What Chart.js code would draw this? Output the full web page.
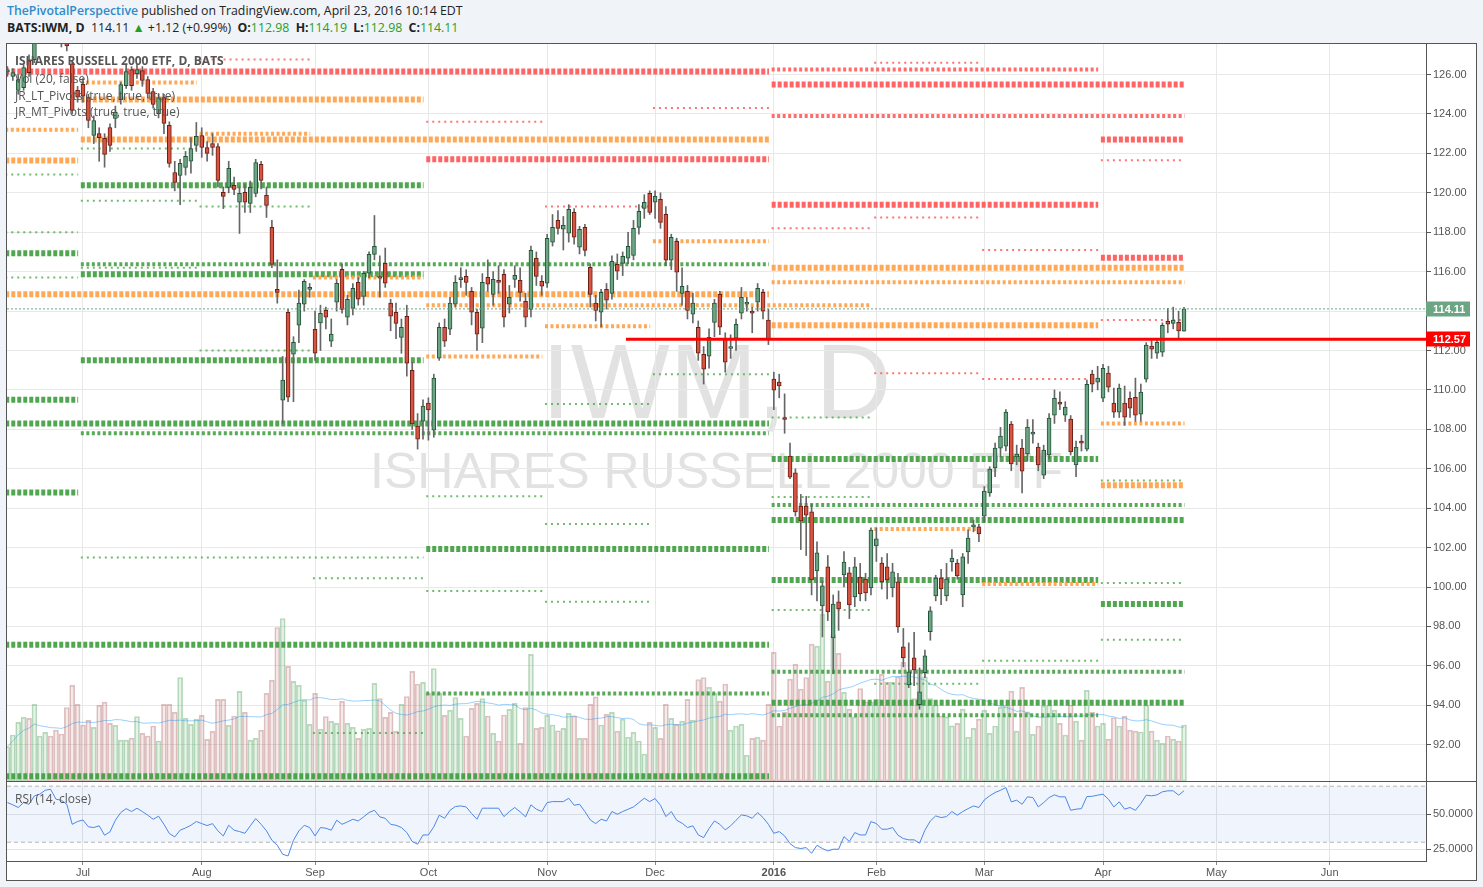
<!DOCTYPE html>
<html>
<head>
<meta charset="utf-8">
<script src="https://cdn.jsdelivr.net/npm/chart.js@4.4.1/dist/chart.umd.min.js"></script>
<style>
  body { margin:0; width:1483px; height:887px; overflow:hidden; background:#f0f3f7; position:relative; font-family:"Open Sans", sans-serif; }
  .hdr { position:absolute; left:7px; font-size:12.3px; line-height:17px; color:#222; white-space:nowrap; }
  #h1 { top:2px; }
  #h2 { top:19px; }
  #h1 .auth { color:#2d8bcb; font-weight:600; }
  .g { color:#1fa01f; }
  #frame { position:absolute; left:6px; top:43px; width:1469px; height:836px; border:1px solid #555; background:#fff; }
  #main { position:absolute; left:0; top:0; z-index:1; }
  #sep { position:absolute; left:0; top:737px; width:1469px; height:1px; background:#555; }
  #rsi { position:absolute; left:0; top:738px; z-index:1; }
  .wm { position:absolute; left:0; width:1419px; text-align:center; font-family:"Liberation Sans", Arial, sans-serif; color:#e2e2e2; white-space:nowrap; z-index:0; }
  #wm1 { top:285px; font-size:105px; line-height:105px; }
  #wm2 { top:402px; font-size:50px; line-height:50px; }
  .lg { position:absolute; left:8px; font-size:12px; line-height:17px; color:#555; z-index:2; white-space:nowrap; }
</style>
</head>
<body>
<div class="hdr" id="h1"><span class="auth">ThePivotalPerspective</span> published on TradingView.com, April 23, 2016 10:14 EDT</div>
<div class="hdr" id="h2"><b>BATS:IWM, D</b>&nbsp; 114.11 <span class="g">&#9650;</span> +1.12 (+0.99%)&nbsp; <b>O:</b><span class="g">112.98</span>&nbsp; <b>H:</b><span class="g">114.19</span>&nbsp; <b>L:</b><span class="g">112.98</span>&nbsp; <b>C:</b><span class="g">114.11</span></div>
<div id="frame">
  <div class="wm" id="wm1">IWM, D</div>
  <div class="wm" id="wm2">ISHARES RUSSELL 2000 ETF</div>
  <canvas id="main" width="1469" height="737"></canvas>
  <div id="sep"></div>
  <canvas id="rsi" width="1469" height="98"></canvas>
  <div class="lg" style="top:8px;font-weight:bold;">ISHARES RUSSELL 2000 ETF, D, BATS</div>
  <div class="lg" style="top:26px;">Vol (20, false)</div>
  <div class="lg" style="top:43px;">JR_LT_Pivots (true, true, true)</div>
  <div class="lg" style="top:59px;">JR_MT_Pivots (true, true, true)</div>
  <div class="lg" style="top:746px;">RSI (14, close)</div>
</div>
<script>
// month ticks (bar index of first session of each month)
const monthIdx = [14, 36, 57, 78, 100, 120, 142, 161, 181, 203, 224, 245];
const monthLbl = ["Jul", "Aug", "Sep", "Oct", "Nov", "Dec", "2016", "Feb", "Mar", "Apr", "May", "Jun"];

// daily bars, Jun 11 2015 .. Apr 22 2016
const opens = [126.15,125.9,125.2,125.34,126.7,126.76,127.7,128.0,128.3,128.1,127.9,127.9,126.55,125.2,125.5,124.83,122.91,123.0,122.76,123.31,
123.77,124.73,125.44,126.25,126.05,126.2,125.75,125.14,124.02,124.83,123.42,121.03,120.88,121.29,121.6,122.4,122.91,122.3,122.5,122.35,
120.02,120.28,120.38,119.52,120.02,119.46,119.97,121.44,119.87,118.25,115.1,109.48,113.94,111.81,113.28,114.35,115.1,113.08,113.4,114.04,
112.47,114.45,116.12,113.69,114.14,115.46,114.75,115.92,116.88,115.75,116.42,114.4,113.94,112.67,113.74,111.0,108.16,108.42,109.33,107.96,
111.61,113.18,113.08,114.35,115.6,115.76,115.0,113.94,113.13,115.71,114.85,115.56,115.87,114.35,115.61,115.56,114.5,114.09,116.68,115.51,
115.41,117.49,118.6,118.15,117.95,119.01,117.24,118.25,116.22,114.4,113.94,115.11,114.9,116.37,116.42,116.68,116.83,118.25,119.21,119.97,
119.52,119.67,118.91,116.58,117.54,114.9,115.0,113.84,113.18,111.81,111.71,113.43,114.85,112.57,112.1,112.62,113.89,114.35,114.0,114.45,
114.95,113.54,110.55,110.4,108.6,106.65,105.79,104.11,104.11,103.81,100.82,99.04,101.02,97.42,99.25,100.61,100.72,99.5,100.51,100.4,
99.96,102.08,101.22,101.02,99.96,100.26,96.97,95.04,96.41,94.03,95.65,97.73,99.55,100.46,99.55,101.27,101.22,99.6,101.78,103.05,
103.05,103.6,104.77,106.04,107.05,107.15,108.27,106.6,107.05,106.75,107.76,107.1,105.68,106.7,108.72,109.38,108.72,108.52,106.19,107.4,
107.0,110.8,110.4,109.58,110.85,109.33,108.87,109.33,109.58,109.63,108.77,110.55,112.22,111.86,111.91,113.48,113.38,113.43,112.98];
const highs = [126.4,126.3,126.0,126.5,127.0,128.0,128.3,128.4,128.7,128.5,128.2,128.1,126.7,125.4,125.8,125.0,123.9,123.3,123.0,123.5,
124.4,125.6,126.5,126.4,126.5,126.4,125.9,125.3,125.0,125.0,123.6,121.6,121.7,122.1,122.8,123.57,123.3,122.6,123.0,122.5,
120.3,121.6,120.8,120.3,120.4,120.6,121.7,121.6,120.3,118.6,116.6,111.7,114.1,112.7,115.06,115.6,115.4,114.0,114.3,114.2,
113.6,115.6,116.4,114.8,115.4,115.7,116.0,117.0,118.85,116.8,117.2,114.6,114.4,113.6,114.3,111.4,108.8,109.5,109.6,110.8,
113.4,113.6,114.7,115.8,116.2,116.1,115.2,114.1,115.9,116.6,116.0,116.3,116.1,115.3,116.3,116.2,114.9,117.3,117.0,115.8,
117.9,118.9,119.1,118.8,119.4,119.2,118.3,118.4,116.4,114.8,115.1,115.4,116.8,116.9,117.0,118.0,118.6,119.4,119.9,120.1,
120.1,120.0,119.3,117.9,117.7,116.2,115.3,114.9,113.5,112.2,113.1,114.6,115.0,112.9,112.8,113.6,115.2,114.7,114.2,115.4,
115.1,114.1,110.9,110.8,109.8,107.3,106.0,104.7,104.6,104.2,102.3,100.3,101.6,99.6,99.8,101.8,101.0,101.5,101.2,100.7,
103.0,103.0,101.5,101.7,101.2,100.7,97.9,97.17,97.7,95.9,96.8,99.0,100.6,100.9,101.2,101.9,101.4,101.7,102.9,103.4,
103.2,105.1,106.1,107.3,108.1,109.0,108.4,107.2,107.5,108.5,108.5,107.3,107.2,108.8,110.0,109.9,109.4,108.7,107.4,107.7,
110.5,111.0,111.2,111.3,111.2,110.1,110.3,110.2,109.9,110.6,110.3,112.4,112.5,112.6,113.4,114.14,114.2,114.0,114.19];
const lows = [125.9,125.7,125.0,125.2,125.9,126.6,127.6,127.7,127.9,127.7,127.4,127.2,124.0,124.6,124.6,123.3,122.5,121.6,121.3,122.1,
123.3,124.5,125.3,125.2,125.8,125.4,124.8,124.3,123.8,123.0,121.3,120.1,119.4,120.9,121.0,122.1,121.8,121.6,121.9,120.3,
119.2,120.0,119.9,117.94,119.0,119.0,119.8,120.2,118.75,116.2,114.4,108.3,109.4,109.4,112.4,114.0,114.7,111.5,112.0,113.1,
112.2,114.0,113.9,113.3,113.8,114.3,114.3,115.7,116.6,114.7,115.2,113.0,112.6,111.86,110.7,108.0,107.0,107.5,107.45,107.6,
111.5,112.2,112.8,114.2,115.2,114.8,113.3,112.0,112.4,115.0,114.3,114.9,113.2,113.9,115.2,114.5,113.2,113.7,115.3,114.8,
115.2,117.3,117.9,117.1,117.5,117.4,116.9,116.8,114.2,113.5,113.2,114.1,114.6,115.6,115.8,116.4,116.6,117.9,118.7,118.9,
118.7,118.2,116.3,116.1,115.0,114.3,113.6,113.4,111.5,110.3,111.1,112.7,112.8,110.9,111.6,112.0,113.6,114.0,112.9,114.0,
113.6,112.3,109.0,109.6,107.8,105.5,103.6,101.9,101.6,99.6,99.3,97.47,98.3,95.6,97.8,100.0,98.4,99.0,99.3,99.3,
99.6,101.3,99.9,99.4,99.5,97.7,95.95,94.9,95.0,93.8,95.4,97.3,99.3,99.1,99.3,100.8,100.4,99.0,101.2,102.8,
102.3,103.3,104.6,105.6,106.6,106.9,105.9,106.2,104.77,106.4,107.3,105.9,105.5,106.5,108.3,109.0,108.4,106.7,105.6,106.9,
106.9,109.9,110.0,109.4,109.9,108.6,108.6,108.2,108.6,108.4,108.4,110.4,111.6,111.6,111.7,112.9,113.1,112.6,112.98];
const closes = [126.2,126.1,125.75,126.35,126.1,127.7,128.0,128.2,128.1,127.9,127.6,127.45,124.18,124.85,124.9,123.67,123.67,122.8,121.95,122.4,
124.08,125.49,126.15,125.44,126.25,125.7,125.04,124.48,124.83,123.52,121.49,120.53,121.49,121.85,122.25,122.86,122.3,122.0,122.3,120.63,
119.82,121.24,120.17,119.97,119.52,120.28,121.54,120.63,119.36,116.37,114.95,110.5,109.63,112.42,114.4,115.51,115.2,111.86,113.89,113.69,
112.83,115.41,114.09,114.6,115.16,114.6,115.92,116.88,117.28,115.67,115.41,113.74,113.38,113.18,111.36,108.27,107.5,109.18,108.98,110.6,
113.18,112.47,114.4,115.46,115.7,115.46,113.94,112.83,115.46,115.36,115.61,115.46,113.69,114.7,115.82,114.95,113.69,117.08,115.76,115.26,
117.69,118.25,118.2,118.35,119.16,117.75,118.15,117.08,114.85,114.04,114.95,114.55,116.52,116.02,116.78,117.28,118.2,119.06,119.52,119.01,
119.82,118.5,116.58,117.74,115.97,115.26,114.04,114.4,111.86,111.05,112.67,114.4,113.18,111.41,112.2,113.33,114.7,114.45,113.9,115.16,
113.99,112.57,109.99,110.2,108.5,105.58,103.81,103.35,103.65,100.36,101.73,100.06,98.74,99.14,98.89,101.27,99.09,101.02,99.65,99.7,
102.89,102.44,100.26,100.36,100.77,97.98,96.41,95.7,95.8,94.69,96.51,98.79,100.46,99.9,100.41,101.47,100.56,101.53,102.49,103.15,
102.69,104.87,105.99,107.05,107.66,108.87,106.24,106.75,105.88,108.11,107.86,106.19,106.95,108.57,109.58,109.28,109.13,106.85,107.1,107.3,
110.29,110.29,110.6,111.1,110.14,108.87,110.09,108.62,109.08,108.72,109.89,112.27,112.07,112.42,113.28,113.33,113.54,112.99,114.11];
// volume, millions of shares
const volumes = [20.9,28.1,35.8,38.8,38.2,46.8,27.5,29.7,27.5,31.1,28.7,44.9,58.4,46.8,34.2,37.2,32.7,46.2,48.2,35.2,
34.0,25.0,25.0,26.2,39.4,29.1,27.5,33.6,24.4,46.8,46.8,41.9,63.2,38.2,34.6,37.8,40.1,25.4,30.3,49.8,
49.8,34.0,39.7,54.7,41.9,25.0,26.0,31.1,53.5,61.4,93.7,99.2,70.0,60.8,58.4,49.2,34.6,53.5,31.7,39.4,
36.4,35.2,48.6,35.2,32.7,26.0,31.5,32.1,59.6,50.4,38.8,41.9,30.3,46.8,51.6,66.9,59.2,60.2,53.5,68.7,
53.5,40.1,43.3,51.0,38.2,27.5,44.3,47.4,50.4,39.7,29.1,24.4,40.3,43.7,47.4,23.0,44.9,77.3,32.1,32.7,
40.1,34.2,30.7,32.1,41.3,39.7,26.0,26.0,46.8,51.4,34.2,40.7,41.9,30.5,37.8,26.7,29.7,24.4,16.5,35.8,
32.7,26.0,46.8,38.2,34.6,36.6,49.8,37.2,62.0,63.2,57.2,53.5,48.8,59.2,31.1,33.6,34.6,15.7,26.0,26.7,
25.0,46.8,78.5,33.6,42.1,62.2,71.4,56.1,63.2,83.6,82.4,101.9,61.0,89.1,77.9,54.1,43.9,39.2,56.5,48.4,
48.4,49.8,65.1,60.2,60.2,63.6,72.4,59.6,50.4,68.1,63.6,50.4,46.4,39.7,39.2,33.7,35.2,43.9,26.7,32.1,
37.8,43.3,29.1,33.6,45.0,46.4,54.9,30.5,57.2,42.3,28.5,33.6,45.9,46.4,43.3,35.2,28.1,46.4,36.6,25.0,
55.3,41.9,33.6,35.2,25.6,38.6,33.6,39.7,31.1,30.5,29.9,46.4,30.5,25.0,23.0,27.5,25.6,24.4,34.2];
// RSI(14)
const rsi = [58.3,56.7,54.8,58.3,57.1,63.1,64.3,67.1,67.8,60.7,60.0,57.1,42.8,44.8,45.9,41.0,40.5,41.7,35.0,37.4,
45.7,51.2,54.0,51.9,54.3,51.9,49.3,46.4,48.6,42.8,36.2,33.8,38.6,40.2,42.1,44.8,43.3,41.9,43.3,38.1,
34.5,42.1,38.6,37.6,36.4,41.7,46.9,42.8,38.1,31.4,27.8,21.4,20.2,31.4,38.1,42.1,40.5,34.5,40.5,40.0,
38.6,45.7,42.8,44.5,46.4,45.2,48.1,51.2,52.8,48.1,47.1,42.8,42.1,40.5,36.9,30.5,28.6,35.2,35.2,41.0,
49.3,47.1,52.8,55.5,55.9,55.2,50.5,46.4,54.3,54.3,54.3,54.3,48.3,51.9,54.8,51.7,48.1,56.7,53.6,51.9,
58.3,59.0,59.0,59.0,61.4,56.4,57.1,51.9,45.9,43.3,46.4,45.2,51.9,50.0,51.9,53.6,55.2,58.3,61.4,59.0,
61.2,56.4,48.3,51.9,45.7,43.6,40.5,41.7,35.2,33.3,39.8,45.2,42.8,38.8,41.7,45.7,49.5,48.8,47.1,51.2,
47.6,42.8,36.4,37.6,34.5,29.0,26.2,25.5,26.2,22.1,27.8,25.5,23.8,25.0,25.0,34.0,30.5,36.9,35.2,35.2,
44.8,43.3,39.3,39.3,40.5,35.0,32.6,31.7,31.7,29.3,38.6,45.2,48.8,47.6,48.3,51.9,49.3,51.9,54.0,55.9,
54.8,60.2,63.1,65.5,67.1,69.0,58.8,60.0,57.1,62.4,61.9,55.2,58.3,61.9,63.8,62.4,62.4,52.8,53.6,54.0,
62.6,62.8,63.6,64.3,60.7,55.2,58.8,53.6,54.8,52.8,57.6,63.6,63.1,63.8,66.0,66.7,66.7,63.6,66.7];
const rsiBands = [70, 30];

const lastPrice = 114.11;
const refLevel = 112.57;     // horizontal ray drawn on the chart
const refFromBar = 114.6;

// pivot levels: [level, from period, to period]
const P = { jun:0, jul:14, aug:36, sep:57, oct:78, nov:100, dec:120, jan:142, feb:161, mar:181, apr:203, cur:219 };
const redThick = [[126.15,"jun","jan"],[121.7,"oct","jan"],[125.5,"jan","cur"],[119.4,"jan","apr"],[122.7,"apr","cur"],[116.7,"apr","cur"]];
const redMid = [[126.25,"jan","apr"],[123.9,"jan","cur"]];
const redThin = [[126.76,"aug","sep"],[123.6,"oct","nov"],[124.3,"dec","jan"],[119.3,"nov","dec"],[118.2,"jan","feb"],[126.6,"feb","mar"],
  [118.75,"feb","mar"],[117.1,"mar","apr"],[121.65,"apr","cur"],[113.55,"apr","cur"],[110.85,"feb","mar"],[110.55,"mar","apr"]];
const orangeThick = [[121.64,"jun","jul"],[124.73,"jul","oct"],[122.71,"jul","jan"],[114.85,"jun","jan"],[116.2,"jan","cur"],[113.28,"jan","apr"],[105.17,"apr","cur"]];
const orangeMid = [[123.2,"jun","jul"],[125.6,"jul","aug"],[123.0,"aug","sep"],[115.7,"sep","oct"],[111.7,"oct","nov"],[113.23,"nov","dec"],
  [117.54,"dec","jan"],[115.46,"jan","cur"],[102.94,"feb","mar"],[100.16,"mar","apr"],[108.3,"apr","cur"],[114.3,"oct","feb"]];
const greenThick = [[116.93,"jun","jul"],[109.5,"jun","jul"],[104.8,"jun","jul"],[108.3,"jun","jan"],[97.07,"jun","jan"],[90.4,"jun","jan"],
  [120.38,"jul","oct"],[115.87,"jul","oct"],[111.5,"jul","oct"],[101.93,"oct","jan"],[106.5,"jan","apr"],[103.4,"jan","cur"],
  [100.36,"jan","apr"],[94.13,"jan","cur"],[99.14,"apr","cur"]];
const greenMid = [[116.37,"jul","jan"],[107.8,"jul","jan"],[94.6,"oct","jan"],[104.16,"jan","cur"],[95.7,"jan","cur"],[93.5,"jan","apr"]];
const greenThin = [[120.93,"jun","jul"],[118.0,"jun","jul"],[115.7,"jun","jul"],[122.25,"jul","aug"],[119.6,"jul","aug"],[116.2,"jul","aug"],
  [119.3,"aug","sep"],[112.0,"aug","sep"],[100.45,"sep","oct"],[92.6,"sep","oct"],[101.5,"jul","oct"],[104.6,"oct","nov"],[99.8,"oct","nov"],
  [103.2,"nov","dec"],[99.25,"nov","dec"],[109.28,"nov","dec"],[110.8,"dec","jan"],[108.6,"jan","feb"],[104.57,"jan","feb"],[98.84,"jan","feb"],
  [95.1,"feb","mar"],[96.26,"mar","apr"],[105.4,"apr","cur"],[100.2,"apr","cur"],[97.32,"apr","cur"]];

const X_MIN = -0.08, X_MAX = 262.84;
const UP = "#6ba583", UP_B = "#225437", DN = "#d75442", DN_B = "#6b1e14";

const isUp = closes.map((c, i) => c >= opens[i]);
const volMA = volumes.map((v, i) => {
  const s = volumes.slice(Math.max(0, i - 19), i + 1);
  return s.reduce((a, b) => a + b, 0) / s.length;
});

function seg(list) {
  const d = [];
  list.forEach(([lv, a, b]) => {
    d.push({ x: P[a] - 0.4, y: lv }, { x: P[b] - 0.9, y: lv }, { x: P[b] - 0.9, y: null });
  });
  return d;
}
function piv(list, color, w, dash) {
  return { type: "line", data: seg(list), borderColor: color, borderWidth: w, borderDash: dash,
    pointRadius: 0, spanGaps: false, order: 5, yAxisID: "y", clip: 0 };
}

const tickFont = { family: "'Liberation Sans', Arial, sans-serif", size: 11 };
const noPad = s => { s.paddingTop = 0; s.paddingBottom = 0; s.paddingLeft = 0; s.paddingRight = 0; };

const priceLabels = {
  id: "priceLabels",
  afterDraw(chart) {
    const { ctx, chartArea, scales } = chart;
    [[lastPrice, UP], [refLevel, "#ff0000"]].forEach(([v, col]) => {
      const y = scales.y.getPixelForValue(v);
      ctx.save();
      ctx.fillStyle = col;
      ctx.fillRect(chartArea.right, Math.round(y) - 7.5, 44, 15);
      ctx.fillStyle = "#fff";
      ctx.font = "bold 11px 'Liberation Sans', Arial, sans-serif";
      ctx.textBaseline = "middle";
      ctx.fillText(v.toFixed(2), chartArea.right + 7, Math.round(y) + 0.5);
      ctx.restore();
    });
  }
};

new Chart(document.getElementById("main"), {
  data: {
    datasets: [
      { type: "line", data: [{ x: refFromBar, y: refLevel }, { x: X_MAX, y: refLevel }], borderColor: "#ff0000",
        borderWidth: 3, pointRadius: 0, order: 0, yAxisID: "y" },
      { type: "line", data: [{ x: X_MIN, y: lastPrice }, { x: X_MAX, y: lastPrice }], borderColor: UP,
        borderWidth: 1, borderDash: [2, 2], pointRadius: 0, order: 0, yAxisID: "y" },
      { type: "bar", data: opens.map((o, i) => ({ x: i, y: [o, closes[i]] })),
        backgroundColor: isUp.map(u => u ? UP : DN), borderColor: isUp.map(u => u ? UP_B : DN_B),
        borderWidth: 1, borderSkipped: false, barThickness: 4, minBarLength: 1.5, grouped: false, order: 1, yAxisID: "y", clip: 0 },
      { type: "bar", data: lows.map((l, i) => ({ x: i, y: [l, highs[i]] })),
        backgroundColor: "#666", borderWidth: 0, barThickness: 1, grouped: false, order: 2, yAxisID: "y", clip: 0 },
      piv(redThick, "rgba(255,82,82,0.9)", 6, [4, 2]),
      piv(redMid, "rgba(255,82,82,0.85)", 4, [3, 2.5]),
      piv(redThin, "rgba(255,82,82,0.8)", 2, [2, 4]),
      piv(orangeThick, "rgba(255,160,70,0.9)", 6, [4, 2]),
      piv(orangeMid, "rgba(255,160,70,0.9)", 4, [3, 2.5]),
      piv(greenThick, "rgba(62,156,62,0.9)", 6, [4, 2]),
      piv(greenMid, "rgba(70,160,70,0.9)", 4, [3, 2.5]),
      piv(greenThin, "rgba(76,170,76,0.8)", 2, [2, 4]),
      { type: "line", data: volMA.map((v, i) => ({ x: i, y: v })), borderColor: "rgba(33,150,243,0.45)",
        borderWidth: 1, pointRadius: 0, order: 8, yAxisID: "yVol" },
      { type: "bar", data: volumes.map((v, i) => ({ x: i, y: v })),
        backgroundColor: isUp.map(u => u ? "rgba(108,181,118,0.17)" : "rgba(190,120,120,0.15)"),
        borderColor: isUp.map(u => u ? "rgba(90,165,100,0.42)" : "rgba(180,110,110,0.42)"),
        borderWidth: 1, borderSkipped: false, barThickness: 5, grouped: false, order: 9, yAxisID: "yVol" }
    ]
  },
  options: {
    responsive: false, animation: false, events: [],
    layout: { padding: 0 },
    plugins: { legend: { display: false }, tooltip: { enabled: false } },
    scales: {
      x: { type: "linear", min: X_MIN, max: X_MAX, offset: false,
        afterBuildTicks: s => { s.ticks = monthIdx.map(v => ({ value: v })); },
        afterFit: s => { s.height = 0; noPad(s); },
        ticks: { display: false }, grid: { color: "#e8e8e8", drawTicks: false, offset: false }, border: { display: false } },
      y: { position: "right", min: 90.16, max: 127.55,
        afterBuildTicks: s => { const t = []; for (let v = 92; v <= 126; v += 2) t.push({ value: v }); s.ticks = t; },
        afterFit: s => { s.width = 50; noPad(s); },
        ticks: { callback: v => v.toFixed(2), font: tickFont, color: "#555", padding: 2 },
        grid: { color: "#e8e8e8", tickLength: 5, tickColor: "#555" },
        border: { display: true, color: "#555" } },
      yVol: { display: false, min: 0, max: 450 }
    }
  },
  plugins: [priceLabels]
});

new Chart(document.getElementById("rsi"), {
  data: {
    datasets: [
      { type: "line", data: rsi.map((v, i) => ({ x: i, y: v })), borderColor: "#4a86e8", borderWidth: 1, pointRadius: 0, order: 0 },
      { type: "line", data: [{ x: X_MIN, y: rsiBands[0] }, { x: X_MAX, y: rsiBands[0] }], borderColor: "#b5b5b5",
        borderWidth: 1, borderDash: [4, 3], pointRadius: 0, order: 2 },
      { type: "line", data: [{ x: X_MIN, y: rsiBands[1] }, { x: X_MAX, y: rsiBands[1] }], borderColor: "#b5b5b5",
        borderWidth: 1, borderDash: [4, 3], pointRadius: 0, order: 2, fill: "-1", backgroundColor: "rgba(90,140,230,0.09)" }
    ]
  },
  options: {
    responsive: false, animation: false, events: [],
    layout: { padding: 0 },
    plugins: { legend: { display: false }, tooltip: { enabled: false } },
    scales: {
      x: { type: "linear", min: X_MIN, max: X_MAX, offset: false,
        afterBuildTicks: s => { s.ticks = monthIdx.map(v => ({ value: v })); },
        afterFit: s => { s.height = 19; noPad(s); },
        ticks: { callback: v => monthLbl[monthIdx.indexOf(v)], color: "#555", padding: 1, maxRotation: 0, autoSkip: false,
          font: c => ({ family: tickFont.family, size: 11, weight: c.tick && c.tick.value === 142 ? "bold" : "normal" }) },
        grid: { color: "#e4e4e4", tickLength: 4, tickColor: "#888" },
        border: { display: true, color: "#555" } },
      y: { position: "right", min: 16.6, max: 73.0,
        afterBuildTicks: s => { s.ticks = [{ value: 25 }, { value: 50 }]; },
        afterFit: s => { s.width = 50; noPad(s); },
        ticks: { callback: v => v.toFixed(4), font: tickFont, color: "#555", padding: 2 },
        grid: { color: "#e4e4e4", tickLength: 5, tickColor: "#555" },
        border: { display: true, color: "#555" } }
    }
  }
});
</script>
</body>
</html>
